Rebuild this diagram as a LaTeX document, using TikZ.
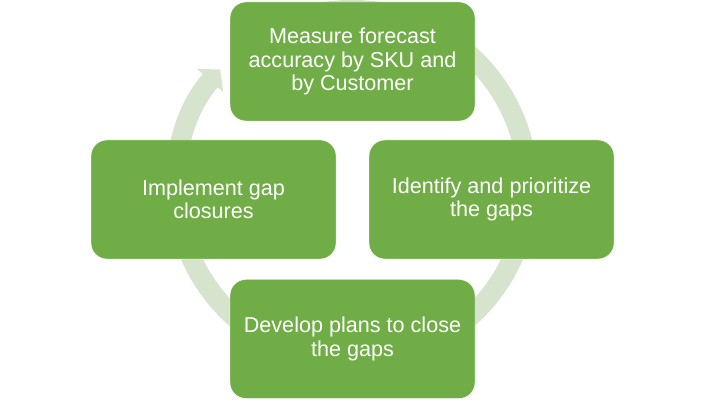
\documentclass[tikz,border=0pt]{standalone}
\usepackage{fontspec}
\setmainfont{Liberation Sans}
\usetikzlibrary{arrows.meta}
\definecolor{boxgreen}{HTML}{70AD47}
\definecolor{ringgreen}{RGB}{214,228,206}

\begin{document}
\begin{tikzpicture}[x=1pt,y=1pt]
    \tikzstyle{every node} = [font=\fontsize{21.6}{23.5}\selectfont, text=white]
    \tikzstyle{block} = [draw=white, fill=boxgreen, rectangle, rounded corners=16pt, minimum width=245pt, minimum height=119pt, align=center]
    \useasboundingbox (0,0) rectangle (705,402);
    % cycle arrow behind the blocks
    \draw[ringgreen, line width=20pt, -{Triangle[length=15pt,width=34pt]}]
    (352,216) ++(110:176) arc[start angle=110, end angle=-221.5, radius=176];

    % place nodes
    \node[block](measureAccuracy) at (352.5,340.5){Measure forecast\\accuracy by SKU and\\by Customer};
    \node[block](identifyGaps) at (491.5,202.5){Identify and prioritize\\the gaps};
    \node[block](developPlans) at (352.5,63){Develop plans to close\\the gaps};
    \node[block](implementClosures) at (213.5,202.5){Implement gap\\closures};

  \end{tikzpicture}
\end{document}
